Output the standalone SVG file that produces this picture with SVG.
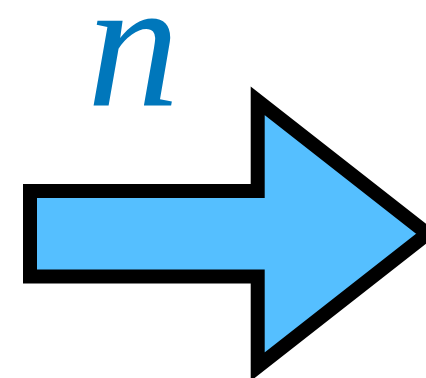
<svg xmlns="http://www.w3.org/2000/svg" width="426" height="378" viewBox="0 0 426 378">
<style>
.arrow{fill:#55BFFF;stroke:#000;stroke-width:14;stroke-linejoin:miter;stroke-miterlimit:10}
.lbl{font-family:"Liberation Serif","DejaVu Serif",serif;font-style:italic;fill:#0077BB}
</style>
<rect width="426" height="378" fill="#fff"/>
<g id="arrow">
<polygon class="arrow" points="30,191 257.7,191 257.7,100.8 427.4,233.75 257.7,366.7 257.7,276.5 30,276.5"/>
</g>
<g id="label">
<text class="lbl" x="87" y="106" font-size="185">n</text>
</g>
</svg>
